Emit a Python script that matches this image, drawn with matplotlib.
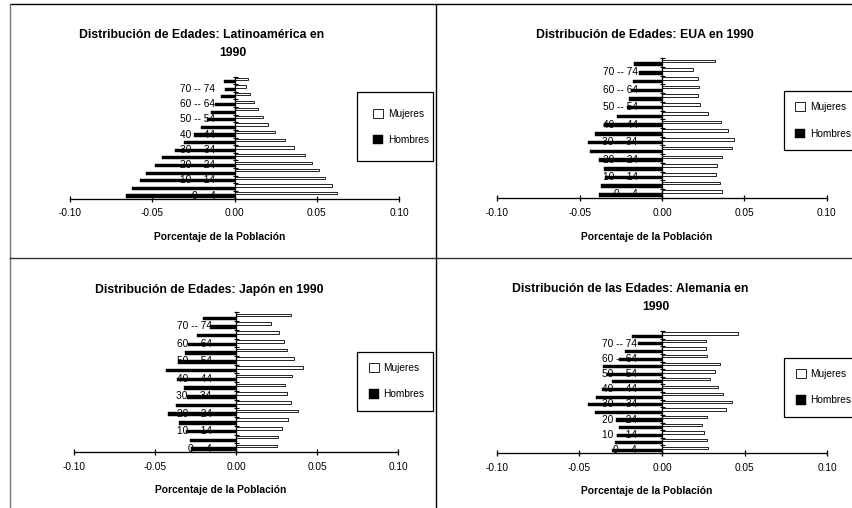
import numpy as np
import matplotlib
matplotlib.use('Agg')
import matplotlib.pyplot as plt
from matplotlib.lines import Line2D
from matplotlib.ticker import FormatStrFormatter

plt.rcParams['font.family'] = ['Liberation Sans', 'DejaVu Sans']
plt.rcParams['axes.unicode_minus'] = False

W, H = 852, 508

# age groups, youngest first
edades = ['0 -- 4', '5 -- 9', '10 -- 14', '15 -- 19', '20 -- 24', '25 -- 29',
          '30 -- 34', '35 -- 39', '40 -- 44', '45 -- 49', '50 -- 54', '55 -- 59',
          '60 -- 64', '65 -- 69', '70 -- 74', '75+']

lat_mujeres = [0.0624, 0.0592, 0.0551, 0.0516, 0.0471, 0.0427, 0.0363, 0.0306,
               0.0247, 0.0202, 0.0171, 0.0145, 0.0118, 0.0094, 0.0069, 0.0080]
lat_hombres = [0.0659, 0.0622, 0.0573, 0.0535, 0.0484, 0.0439, 0.0361, 0.0310,
               0.0245, 0.0201, 0.0165, 0.0144, 0.0116, 0.0085, 0.0058, 0.0063]

eua_mujeres = [0.0366, 0.0352, 0.0326, 0.0332, 0.0366, 0.0423, 0.0435, 0.0403,
               0.0360, 0.0281, 0.0233, 0.0219, 0.0225, 0.0219, 0.0186, 0.0322]
eua_hombres = [0.0383, 0.0370, 0.0346, 0.0352, 0.0383, 0.0435, 0.0447, 0.0407,
               0.0350, 0.0275, 0.0215, 0.0198, 0.0190, 0.0178, 0.0142, 0.0172]

jap_mujeres = [0.0251, 0.0257, 0.0284, 0.0323, 0.0381, 0.0342, 0.0317, 0.0305,
               0.0348, 0.0416, 0.0356, 0.0317, 0.0298, 0.0265, 0.0214, 0.0342]
jap_hombres = [0.0278, 0.0284, 0.0309, 0.0352, 0.0418, 0.0372, 0.0305, 0.0321,
               0.0366, 0.0434, 0.0360, 0.0315, 0.0294, 0.0243, 0.0160, 0.0206]

ale_mujeres = [0.0280, 0.0274, 0.0256, 0.0242, 0.0274, 0.0385, 0.0421, 0.0371,
               0.0339, 0.0288, 0.0321, 0.0353, 0.0274, 0.0268, 0.0268, 0.0460]
ale_hombres = [0.0300, 0.0284, 0.0270, 0.0258, 0.0278, 0.0405, 0.0446, 0.0399,
               0.0361, 0.0304, 0.0331, 0.0355, 0.0258, 0.0222, 0.0147, 0.0181]

xticks = [-0.10, -0.05, 0.00, 0.05, 0.10]


def fx(x):
    return x / W


def fy(y):
    return 1 - y / H


fig = plt.figure(figsize=(W / 100, H / 100), dpi=100)

# panel settings: data, axes box (left, right, top, bottom px), title lines, xlabel pos, legend box, ytick pad
paneles = [
    (lat_mujeres, lat_hombres, (70, 399, 76.5, 198.5),
     [('Distribución de Edades: Latinoamérica en', 202, 35), ('1990', 232.5, 53.3)],
     (220, 237), (357, 92.3, 76, 71.7), 13.7),
    (eua_mujeres, eua_hombres, (497.4, 826.6, 58.3, 197.8),
     [('Distribución de Edades: EUA en 1990', 644.5, 35)],
     (647, 237), (784, 91.3, 76, 61.4), 17.5),
    (jap_mujeres, jap_hombres, (74, 398, 312.4, 452),
     [('Distribución de Edades: Japón en 1990', 209, 290)],
     (221, 490), (357, 351.7, 76, 62.3), 17.5),
    (ale_mujeres, ale_hombres, (496.7, 827.3, 331.1, 453),
     [('Distribución de las Edades: Alemania en', 630, 289.3), ('1990', 656, 306.7)],
     (646.7, 490.7), (784, 357.7, 76, 62.3), 18),
]

n = len(edades)
pos = np.arange(n)

for mujeres, hombres, caja, titulo, xlab, leg, pad in paneles:
    l, r, t, b = caja
    ax = fig.add_axes([fx(l), fy(b), fx(r) - fx(l), fy(t) - fy(b)])
    ax.patch.set_visible(False)
    ax.set_axisbelow(True)

    bm = ax.barh(pos + 0.70, mujeres, height=0.30, color='white',
                 edgecolor='black', linewidth=0.6)
    bh = ax.barh(pos + 0.33, -np.array(hombres), height=0.40, color='black',
                 edgecolor='black', linewidth=0.3)

    ax.set_xlim(-0.10, 0.10)
    ax.set_ylim(0, n)
    for s in ['top', 'right']:
        ax.spines[s].set_visible(False)
    ax.spines['left'].set_position(('data', 0))
    ax.spines['left'].set_linewidth(0.95)
    ax.spines['bottom'].set_linewidth(0.95)

    ax.set_xticks(xticks)
    ax.xaxis.set_major_formatter(FormatStrFormatter('%.2f'))
    ax.tick_params(axis='x', direction='inout', length=4.3, width=0.9,
                   labelsize=7.3, pad=5)

    ax.set_yticks(pos[::2] + 0.5)
    ax.set_yticklabels(edades[::2])
    ax.set_yticks(np.arange(n + 1), minor=True)
    ax.tick_params(axis='y', which='major', length=0, labelsize=7.3, pad=pad)
    ax.tick_params(axis='y', which='minor', direction='inout', length=3.6,
                   width=0.8)

    for txt, x, y in titulo:
        fig.text(fx(x), fy(y), txt, ha='center', va='center',
                 fontsize=8.8, fontweight='bold')
    fig.text(fx(xlab[0]), fy(xlab[1]), 'Porcentaje de la Población',
             ha='center', va='center', fontsize=7.35, fontweight='bold')

    lx, ly, lw, lh = leg
    lg = ax.legend([bm, bh], ['Mujeres', 'Hombres'],
                   bbox_to_anchor=(fx(lx), fy(ly + lh), fx(lw), lh / H),
                   bbox_transform=fig.transFigure, loc='upper left',
                   mode='expand', borderaxespad=0, fontsize=7.3,
                   fancybox=False, framealpha=1, edgecolor='black',
                   handlelength=1.0, handleheight=1.0, handletextpad=0.45,
                   labelspacing=1.6,
                   borderpad=(lh - 39.2) / 2 / 10.14)
    lg.get_frame().set_linewidth(0.9)

# page frame lines around the four charts
marcos = [
    ([9.5, 852], [3.5, 3.5], 'black'),
    ([9.5, 9.5], [3.5, 507], '#777777'),
    ([436, 436], [3.5, 508], 'black'),
    ([9.5, 852], [257.7, 257.7], '#333333'),
]
for xs, ys, c in marcos:
    fig.add_artist(Line2D([fx(v) for v in xs], [fy(v) for v in ys],
                          transform=fig.transFigure, color=c, linewidth=1.0))

fig.savefig('out.png', dpi=100)
